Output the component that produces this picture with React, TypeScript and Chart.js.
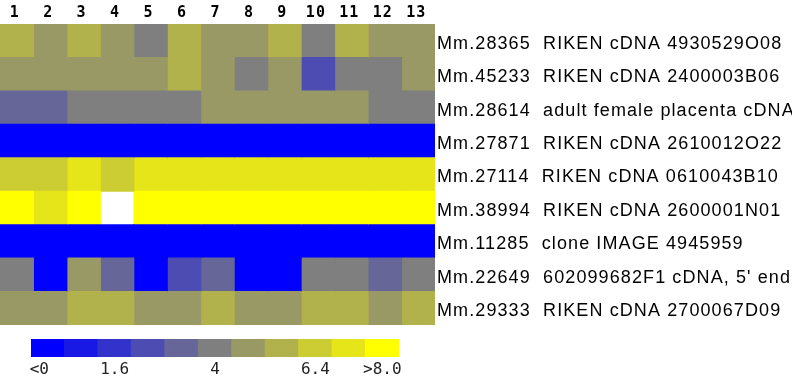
import React, { useEffect, useRef } from "react";
import { Chart, registerables } from "chart.js";

Chart.register(...registerables);

// ---- data ----
const colLabels = ["1", "2", "3", "4", "5", "6", "7", "8", "9", "10", "11", "12", "13"];

const rowIds = [
  "Mm.28365", "Mm.45233", "Mm.28614", "Mm.27871", "Mm.27114",
  "Mm.38994", "Mm.11285", "Mm.22649", "Mm.29333",
];
const rowDescs = [
  "RIKEN cDNA 4930529O08",
  "RIKEN cDNA 2400003B06",
  "adult female placenta cDNA",
  "RIKEN cDNA 2610012O22",
  "RIKEN cDNA 0610043B10",
  "RIKEN cDNA 2600001N01",
  "clone IMAGE 4945959",
  "602099682F1 cDNA, 5' end",
  "RIKEN cDNA 2700067D09",
];

const mm28365 = [5.6, 4.8, 5.6, 4.8, 4.0, 5.6, 4.8, 4.8, 5.6, 4.0, 5.6, 4.8, 4.8];
const mm45233 = [4.8, 4.8, 4.8, 4.8, 4.8, 5.6, 4.8, 4.0, 4.8, 2.4, 4.0, 4.0, 4.8];
const mm28614 = [3.2, 3.2, 4.0, 4.0, 4.0, 4.0, 4.8, 4.8, 4.8, 4.8, 4.8, 4.0, 4.0];
const mm27871 = [-0.5, -0.5, -0.5, -0.5, -0.5, -0.5, -0.5, -0.5, -0.5, -0.5, -0.5, -0.5, -0.5];
const mm27114 = [6.4, 6.4, 7.2, 6.4, 7.2, 7.2, 7.2, 7.2, 7.2, 7.2, 7.2, 7.2, 7.2];
const mm38994 = [8.4, 7.2, 8.4, null, 8.4, 8.4, 8.4, 8.4, 8.4, 8.4, 8.4, 8.4, 8.4];
const mm11285 = [-0.5, -0.5, -0.5, -0.5, -0.5, -0.5, -0.5, -0.5, -0.5, -0.5, -0.5, -0.5, -0.5];
const mm22649 = [4.0, -0.2, 4.8, 3.2, -0.2, 2.4, 3.2, -0.2, -0.2, 4.0, 4.0, 3.2, 4.0];
const mm29333 = [4.8, 4.8, 5.6, 5.6, 4.8, 4.8, 5.6, 4.8, 4.8, 5.6, 5.6, 4.8, 5.6];

const rowValues: (number | null)[][] = [
  mm28365, mm45233, mm28614, mm27871, mm27114, mm38994, mm11285, mm22649, mm29333,
];

const legendSteps = [0, 0.8, 1.6, 2.4, 3.2, 4.0, 4.8, 5.6, 6.4, 7.2, 8.0];
const legendTickValues = [-0.2, 1.6, 4.0, 6.4, 8.0];
const legendTickLabels = ["<0", "1.6", "4", "6.4", ">8.0"];

// ---- style ----
const palette = [
  "#0000FF", "#1919E6", "#3333CC", "#4C4CB2", "#666699", "#7F7F7F",
  "#999966", "#B2B24C", "#CCCC33", "#E5E519", "#FFFF00",
];
const STEP = 0.8;

function colorFor(v: number | null): string {
  if (v === null) return "rgba(0,0,0,0)";
  let i = Math.round(v / STEP);
  if (i < 0) i = 0;
  if (i > palette.length - 1) i = palette.length - 1;
  return palette[i];
}

const spacingPlugin = {
  id: "letterSpacingPlugin",
  beforeDraw(chart: any) {
    (chart.ctx as any).letterSpacing = "1.1px";
  },
  afterDraw(chart: any) {
    (chart.ctx as any).letterSpacing = "0px";
  },
};

function noPad(s: any) {
  s.paddingLeft = 0;
  s.paddingRight = 0;
  s.paddingTop = 0;
  s.paddingBottom = 0;
}

export default function App() {
  const mainRef = useRef<HTMLCanvasElement>(null);
  const legRef = useRef<HTMLCanvasElement>(null);

  useEffect(() => {
    const rowLabels = rowIds.map((id, i) => id + "  " + rowDescs[i]);
    const datasets = colLabels.map((_, c) => ({
      label: colLabels[c],
      data: rowValues.map((row) => (row[c] === null ? null : [c, c + 1])),
      backgroundColor: rowValues.map((row) => colorFor(row[c])),
      borderWidth: 0,
      grouped: false,
      barPercentage: 1,
      categoryPercentage: 1,
      inflateAmount: 0.5,
    }));

    const main = new Chart(mainRef.current!, {
      type: "bar",
      data: { labels: rowLabels, datasets: datasets as any },
      plugins: [spacingPlugin],
      options: {
        indexAxis: "y",
        responsive: false,
        animation: false,
        layout: { padding: { left: 0, right: 0, top: 0, bottom: 5 } },
        plugins: { legend: { display: false }, tooltip: { enabled: false } },
        scales: {
          x: {
            type: "linear",
            position: "top",
            min: 0,
            max: colLabels.length,
            grid: { display: false, drawTicks: false },
            border: { display: false },
            afterBuildTicks: (s: any) => {
              s.ticks = colLabels.map((_, i) => ({ value: i + 0.5 }));
            },
            afterFit: (s: any) => {
              s.height = 24;
              noPad(s);
            },
            ticks: {
              autoSkip: false,
              maxRotation: 0,
              padding: 2,
              labelOffset: -2,
              color: "#000",
              font: { family: "DejaVu Sans Mono", size: 15, weight: "bold" },
              callback: (_v: any, i: number) => colLabels[i],
            },
          },
          y: {
            type: "category",
            position: "right",
            grid: { display: false, drawTicks: false },
            border: { display: false },
            afterFit: (s: any) => {
              s.width = 357;
              noPad(s);
            },
            ticks: {
              autoSkip: false,
              padding: 2,
              labelOffset: 3,
              color: "#000",
              font: { family: "Liberation Sans", size: 18 },
            },
          },
        },
      } as any,
    });

    const leg = new Chart(legRef.current!, {
      type: "bar",
      data: {
        datasets: [
          {
            data: legendSteps.map((v) => ({ x: v, y: 1 })),
            backgroundColor: legendSteps.map((v) => colorFor(v)),
            borderWidth: 0,
            barPercentage: 1,
            categoryPercentage: 1,
            inflateAmount: 0.5,
          } as any,
        ],
      },
      options: {
        responsive: false,
        animation: false,
        layout: { padding: { left: 31, right: 41, top: 9, bottom: 0 } },
        plugins: { legend: { display: false }, tooltip: { enabled: false } },
        scales: {
          x: {
            type: "linear",
            min: -0.4,
            max: 8.4,
            offset: false,
            grid: { display: false, drawTicks: false, offset: false },
            border: { display: false },
            afterBuildTicks: (s: any) => {
              s.ticks = legendTickValues.map((v) => ({ value: v }));
            },
            afterFit: (s: any) => {
              s.height = 20;
              noPad(s);
            },
            ticks: {
              autoSkip: false,
              maxRotation: 0,
              padding: 3,
              color: "#222",
              font: { family: "DejaVu Sans Mono", size: 16 },
              callback: (_v: any, i: number) => legendTickLabels[i],
            },
          },
          y: { type: "linear", min: 0, max: 1, display: false },
        },
      } as any,
    });

    return () => {
      main.destroy();
      leg.destroy();
    };
  }, []);

  return (
    <div
      style={{
        position: "absolute",
        left: 0,
        top: 0,
        width: 792,
        height: 377,
        background: "#fff",
        overflow: "hidden",
      }}
    >
      <canvas
        ref={mainRef}
        width={792}
        height={330}
        style={{ position: "absolute", left: 0, top: 0 }}
      />
      <canvas
        ref={legRef}
        width={440}
        height={47}
        style={{ position: "absolute", left: 0, top: 330 }}
      />
    </div>
  );
}
